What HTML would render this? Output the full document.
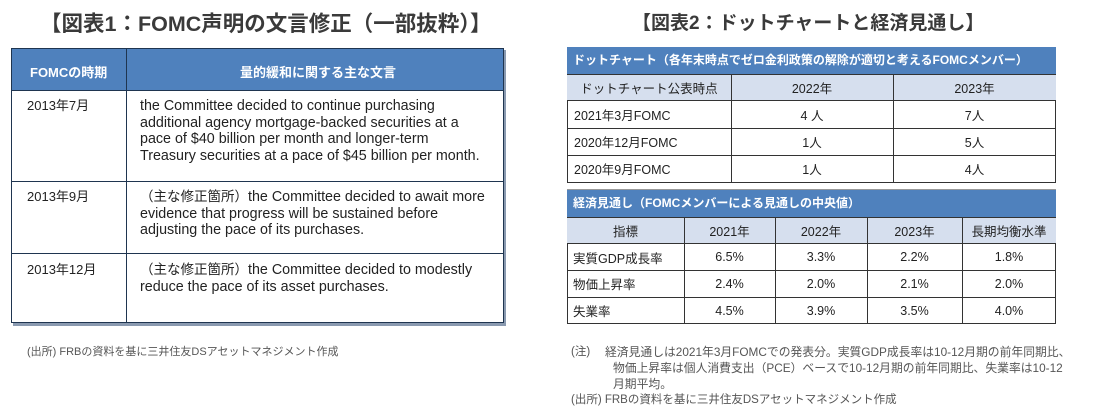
<!DOCTYPE html>
<html><head><meta charset="utf-8"><style>
body{margin:0;width:1099px;height:412px;background:#fff;position:relative;overflow:hidden;font-family:"Liberation Sans","Noto Sans CJK JP",sans-serif;color:#222}
.a{position:absolute;white-space:nowrap}
.t{font-size:19px;font-weight:bold;color:#3a3a3a}
.hd{background:#4f81bd;color:#fff;font-weight:bold;font-size:12px}
.c{font-size:14.3px;line-height:16.5px}
.d{font-size:13px}
.cell{position:absolute;box-sizing:border-box;font-size:12.5px;display:flex;align-items:center}
.n{font-size:11.5px;color:#555;line-height:16px}
</style></head><body>
<div class="a t" style="left:40px;top:7px;font-size:21.5px">【図表1：FOMC声明の文言修正（一部抜粋）】</div>
<div class="a t" style="left:632px;top:8px">【図表2：ドットチャートと経済見通し】</div>

<div class="a" style="left:13px;top:50px;width:493px;height:276px;background:#8a9ab0"></div>
<div class="a" style="left:11px;top:48px;width:493px;height:275px;box-sizing:border-box;border:1.5px solid #1f3550;background:#fff"></div>
<div class="a hd" style="left:12px;top:49px;width:491px;height:41px;border-bottom:1px solid #1f3550"></div>
<div class="a" style="left:126px;top:48px;width:1px;height:275px;background:#1f3550"></div>
<div class="a" style="left:11px;top:181px;width:493px;height:1px;background:#1f3550"></div>
<div class="a" style="left:11px;top:253px;width:493px;height:1px;background:#1f3550"></div>
<div class="a hd" style="left:30px;top:62px;background:none;font-size:13px">FOMCの時期</div>
<div class="a hd" style="left:240px;top:62px;background:none;font-size:13px">量的緩和に関する主な文言</div>
<div class="a c d" style="left:27px;top:98px">2013年7月</div>
<div class="a c" style="left:140px;top:98px">the Committee decided to continue purchasing<br>additional agency mortgage-backed securities at a<br>pace of $40 billion per month and longer-term<br>Treasury securities at a pace of $45 billion per month.</div>
<div class="a c d" style="left:27px;top:189px">2013年9月</div>
<div class="a c" style="left:140px;top:189px"><span style="font-size:13.5px">（主な修正箇所）</span>the Committee decided to await more<br>evidence that progress will be sustained before<br>adjusting the pace of its purchases.</div>
<div class="a c d" style="left:27px;top:262px">2013年12月</div>
<div class="a c" style="left:140px;top:262px"><span style="font-size:13.5px">（主な修正箇所）</span>the Committee decided to modestly<br>reduce the pace of its asset purchases.</div>
<div class="a n" style="left:27px;top:344px;font-size:11px">(出所)  FRBの資料を基に三井住友DSアセットマネジメント作成</div>

<div class="a" style="left:567px;top:47px;width:489px;height:136px;border:1px solid #333;box-sizing:border-box"></div>
<div class="a hd" style="left:567px;top:47px;width:489px;height:27px;padding-left:6px;line-height:27px;box-sizing:border-box">ドットチャート（各年末時点でゼロ金利政策の解除が適切と考えるFOMCメンバー）</div>
<div class="a" style="left:567px;top:74px;width:489px;height:27px;background:#d6dfee;border-top:1px solid #333;border-bottom:1px solid #333;box-sizing:border-box"></div>
<div class="a" style="left:567px;top:128px;width:489px;height:1px;background:#333"></div>
<div class="a" style="left:567px;top:155px;width:489px;height:1px;background:#333"></div>
<div class="a" style="left:731px;top:74px;width:1px;height:109px;background:#333"></div>
<div class="a" style="left:893px;top:74px;width:1px;height:109px;background:#333"></div>
<div class="cell" style="left:567px;top:74px;width:164px;height:27px;justify-content:center">ドットチャート公表時点</div>
<div class="cell" style="left:731px;top:74px;width:162px;height:27px;justify-content:center">2022年</div>
<div class="cell" style="left:893px;top:74px;width:163px;height:27px;justify-content:center">2023年</div>
<div class="cell" style="left:574px;top:101px;height:27px">2021年3月FOMC</div>
<div class="cell" style="left:731px;top:101px;width:162px;height:27px;justify-content:center">4 人</div>
<div class="cell" style="left:893px;top:101px;width:163px;height:27px;justify-content:center">7人</div>
<div class="cell" style="left:574px;top:128px;height:27px">2020年12月FOMC</div>
<div class="cell" style="left:731px;top:128px;width:162px;height:27px;justify-content:center">1人</div>
<div class="cell" style="left:893px;top:128px;width:163px;height:27px;justify-content:center">5人</div>
<div class="cell" style="left:574px;top:155px;height:27px">2020年9月FOMC</div>
<div class="cell" style="left:731px;top:155px;width:162px;height:27px;justify-content:center">1人</div>
<div class="cell" style="left:893px;top:155px;width:163px;height:27px;justify-content:center">4人</div>
<div class="a" style="left:567px;top:189px;width:489px;height:1px;background:#999"></div>

<div class="a" style="left:567px;top:190px;width:489px;height:134px;border:1px solid #333;box-sizing:border-box"></div>
<div class="a hd" style="left:567px;top:190px;width:489px;height:27px;padding-left:6px;line-height:27px;box-sizing:border-box">経済見通し（FOMCメンバーによる見通しの中央値）</div>
<div class="a" style="left:567px;top:217px;width:489px;height:27px;background:#d6dfee;border-top:1px solid #333;border-bottom:1px solid #333;box-sizing:border-box"></div>
<div class="a" style="left:567px;top:270px;width:489px;height:1px;background:#333"></div>
<div class="a" style="left:567px;top:297px;width:489px;height:1px;background:#333"></div>
<div class="a" style="left:684px;top:217px;width:1px;height:107px;background:#333"></div>
<div class="a" style="left:867px;top:217px;width:1px;height:107px;background:#333"></div>
<div class="a" style="left:962px;top:217px;width:1px;height:107px;background:#333"></div>
<div class="a" style="left:775px;top:217px;width:1px;height:107px;background:#333"></div>
<div class="cell" style="left:567px;top:217px;width:117px;height:27px;justify-content:center">指標</div>
<div class="cell" style="left:684px;top:217px;width:91px;height:27px;justify-content:center">2021年</div>
<div class="cell" style="left:775px;top:217px;width:92px;height:27px;justify-content:center">2022年</div>
<div class="cell" style="left:867px;top:217px;width:95px;height:27px;justify-content:center">2023年</div>
<div class="cell" style="left:962px;top:217px;width:94px;height:27px;justify-content:center">長期均衡水準</div>
<div class="cell" style="left:573px;top:244px;height:26px">実質GDP成長率</div>
<div class="cell" style="left:684px;top:244px;width:91px;height:26px;justify-content:center">6.5%</div>
<div class="cell" style="left:775px;top:244px;width:92px;height:26px;justify-content:center">3.3%</div>
<div class="cell" style="left:867px;top:244px;width:95px;height:26px;justify-content:center">2.2%</div>
<div class="cell" style="left:962px;top:244px;width:94px;height:26px;justify-content:center">1.8%</div>
<div class="cell" style="left:573px;top:270px;height:27px">物価上昇率</div>
<div class="cell" style="left:684px;top:270px;width:91px;height:27px;justify-content:center">2.4%</div>
<div class="cell" style="left:775px;top:270px;width:92px;height:27px;justify-content:center">2.0%</div>
<div class="cell" style="left:867px;top:270px;width:95px;height:27px;justify-content:center">2.1%</div>
<div class="cell" style="left:962px;top:270px;width:94px;height:27px;justify-content:center">2.0%</div>
<div class="cell" style="left:573px;top:297px;height:27px">失業率</div>
<div class="cell" style="left:684px;top:297px;width:91px;height:27px;justify-content:center">4.5%</div>
<div class="cell" style="left:775px;top:297px;width:92px;height:27px;justify-content:center">3.9%</div>
<div class="cell" style="left:867px;top:297px;width:95px;height:27px;justify-content:center">3.5%</div>
<div class="cell" style="left:962px;top:297px;width:94px;height:27px;justify-content:center">4.0%</div>

<div class="a n" style="left:571px;top:344px">(注)</div>
<div class="a n" style="left:605px;top:344px;font-size:11.8px">経済見通しは2021年3月FOMCでの発表分。実質GDP成長率は10-12月期の前年同期比、</div>
<div class="a n" style="left:613px;top:360px;font-size:11.8px">物価上昇率は個人消費支出（PCE）ベースで10-12月期の前年同期比、失業率は10-12</div>
<div class="a n" style="left:613px;top:376px;font-size:11.8px">月期平均。</div>
<div class="a n" style="left:571px;top:392px">(出所)  FRBの資料を基に三井住友DSアセットマネジメント作成</div>
</body></html>
